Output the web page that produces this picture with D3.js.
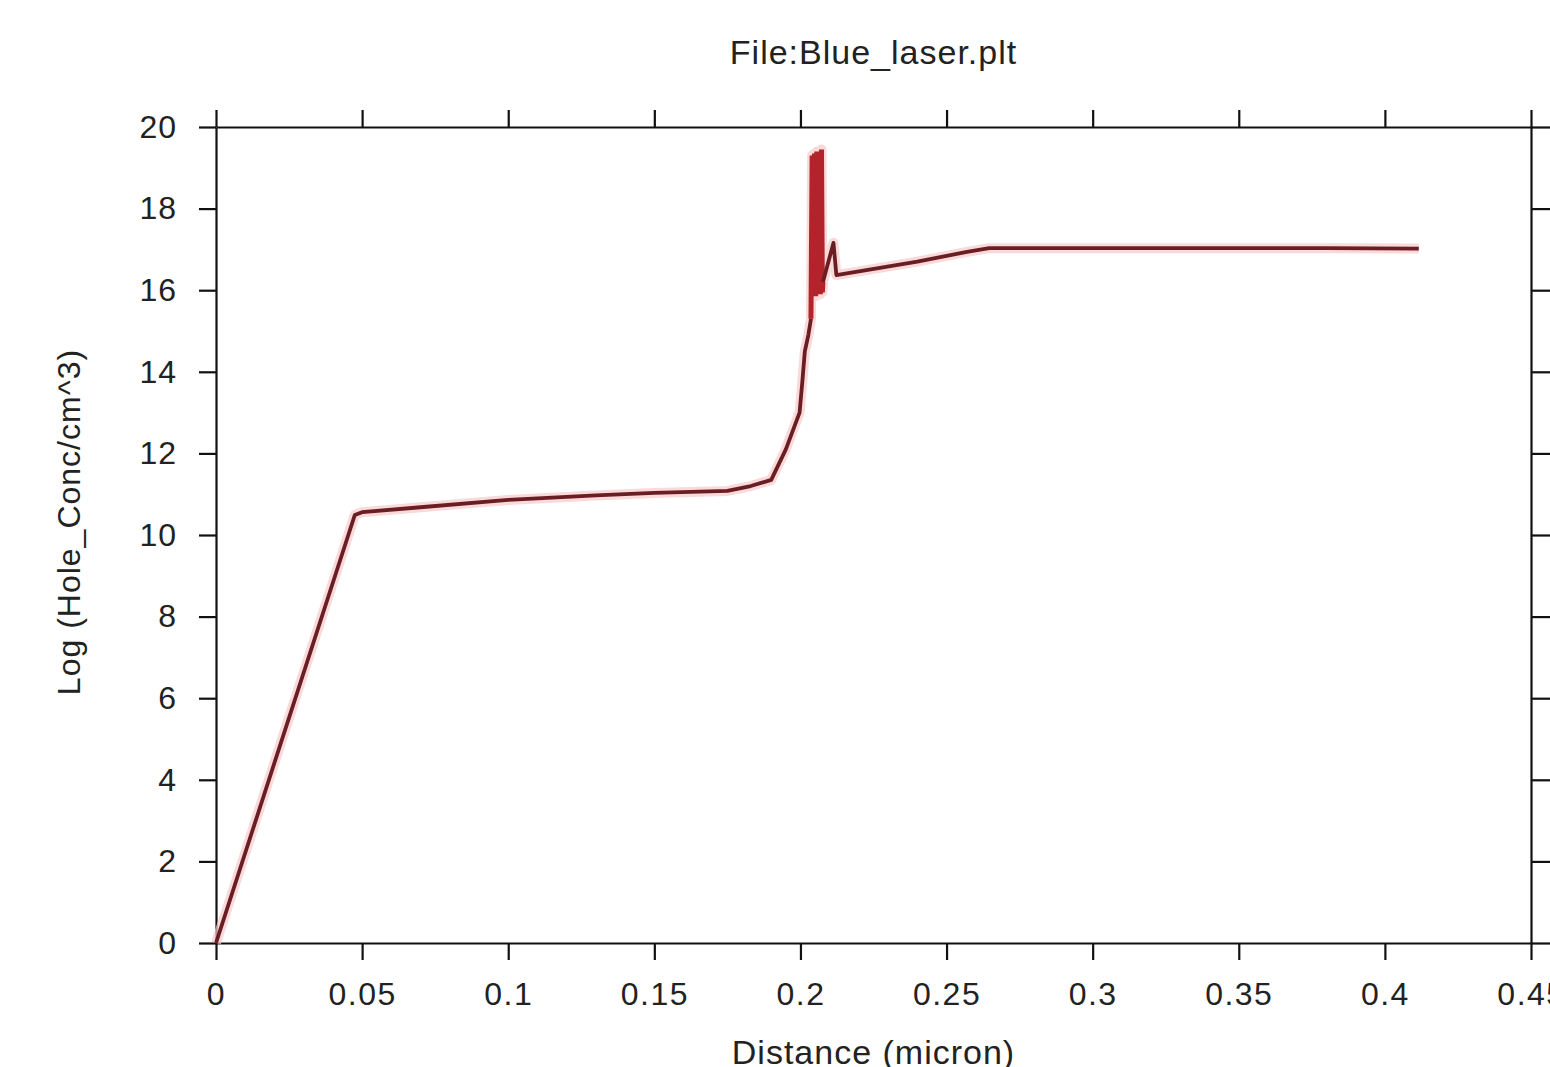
<!DOCTYPE html>
<html>
<head>
<meta charset="utf-8">
<script src="https://cdn.jsdelivr.net/npm/d3@7"></script>
<style>
  body { margin: 0; background: #fff; }
  text { font-family: "Liberation Sans", Arial, sans-serif; fill: #222; }
</style>
</head>
<body>
<script>
// data
var distX = [0, 0.0475, 0.05, 0.07, 0.1, 0.13, 0.15, 0.175, 0.183, 0.19, 0.195, 0.1997, 0.2007, 0.2015, 0.2027, 0.2036];
var logY  = [0, 10.49, 10.56, 10.68, 10.86, 10.97, 11.03, 11.08, 11.2, 11.35, 12.1, 13.0, 13.8, 14.5, 14.9, 15.3];

// the noisy spike near the junction
var spikeX = [0.2036, 0.2040, 0.2044, 0.2048, 0.2052, 0.2056, 0.2060, 0.2064, 0.2068, 0.2072, 0.2075, 0.2077];
var spikeY = [15.3, 19.3, 15.9, 19.35, 15.85, 19.4, 15.9, 19.4, 15.9, 19.45, 15.95, 16.2];

// after the spike
var tailX = [0.2077, 0.2113, 0.2123, 0.24, 0.257, 0.2646, 0.32, 0.38, 0.4116];
var tailY = [16.2, 17.16, 16.37, 16.7, 16.94, 17.03, 17.03, 17.03, 17.02];

var xTicks = [0, 0.05, 0.1, 0.15, 0.2, 0.25, 0.3, 0.35, 0.4, 0.45];
var yTicks = [0, 2, 4, 6, 8, 10, 12, 14, 16, 18, 20];

var W = 1550, H = 1067;
var mLeft = 216, mRight = 1531, mTop = 127, mBottom = 943;

var x = d3.scaleLinear().domain([0, 0.45]).range([mLeft, mRight]);
var y = d3.scaleLinear().domain([0, 20]).range([mBottom, mTop]);

var svg = d3.select("body").append("svg")
    .attr("width", W)
    .attr("height", H);

var fmt = function(d) { return d3.format("~g")(d); };

// axes
var gB = svg.append("g").attr("transform", "translate(0," + mBottom + ")")
    .call(d3.axisBottom(x).tickValues(xTicks).tickSize(17).tickSizeOuter(0).tickPadding(22).tickFormat(fmt));
var gT = svg.append("g").attr("transform", "translate(0," + mTop + ")")
    .call(d3.axisTop(x).tickValues(xTicks).tickSize(17).tickSizeOuter(0).tickFormat(""));
var gL = svg.append("g").attr("transform", "translate(" + mLeft + ",0)")
    .call(d3.axisLeft(y).tickValues(yTicks).tickSize(17).tickSizeOuter(0).tickPadding(22).tickFormat(fmt));
var gR = svg.append("g").attr("transform", "translate(" + mRight + ",0)")
    .call(d3.axisRight(y).tickValues(yTicks).tickSize(19).tickSizeOuter(0).tickFormat(""));

[gB, gT, gL, gR].forEach(function(g) {
    g.selectAll("path.domain").attr("stroke", "#111").attr("stroke-width", 2.2);
    g.selectAll(".tick line").attr("stroke", "#111").attr("stroke-width", 2.2);
    g.selectAll(".tick text").style("font-size", "32px").attr("fill", "#333");
});
gB.selectAll(".tick text").attr("letter-spacing", "1.5px");
gL.selectAll(".tick text").attr("letter-spacing", "1px");

// curve
var line = d3.line()
    .x(function(d) { return x(d[0]); })
    .y(function(d) { return y(d[1]); });

var main = d3.zip(distX, logY);
var spike = d3.zip(spikeX, spikeY);
var tail = d3.zip(tailX, tailY);

var all = main.concat(spike.slice(1), tail.slice(1));

// soft pink halo under the line
svg.append("path")
    .datum(all)
    .attr("d", line)
    .attr("fill", "none")
    .attr("stroke", "#f7c9c9")
    .attr("stroke-width", 10)
    .attr("stroke-linejoin", "round")
    .attr("opacity", 0.7);

svg.append("path")
    .datum(spike)
    .attr("d", line)
    .attr("fill", "none")
    .attr("stroke", "#b3232b")
    .attr("stroke-width", 5)
    .attr("stroke-linejoin", "miter");

svg.append("path")
    .datum(main)
    .attr("d", line)
    .attr("fill", "none")
    .attr("stroke", "#6a1e24")
    .attr("stroke-width", 3.8)
    .attr("stroke-linejoin", "round");

svg.append("path")
    .datum(tail)
    .attr("d", line)
    .attr("fill", "none")
    .attr("stroke", "#6a1e24")
    .attr("stroke-width", 3.8)
    .attr("stroke-linejoin", "round");

// titles
svg.append("text")
    .attr("x", (mLeft + mRight) / 2)
    .attr("y", 64)
    .attr("text-anchor", "middle")
    .attr("letter-spacing", "1px")
    .style("font-size", "34px")
    .text("File:Blue_laser.plt");

svg.append("text")
    .attr("x", (mLeft + mRight) / 2)
    .attr("y", 1064)
    .attr("text-anchor", "middle")
    .attr("letter-spacing", "1px")
    .style("font-size", "34px")
    .text("Distance (micron)");

svg.append("text")
    .attr("transform", "translate(80,522) rotate(-90)")
    .attr("text-anchor", "middle")
    .attr("letter-spacing", "1px")
    .style("font-size", "32px")
    .text("Log (Hole_Conc/cm^3)");
</script>
</body>
</html>
